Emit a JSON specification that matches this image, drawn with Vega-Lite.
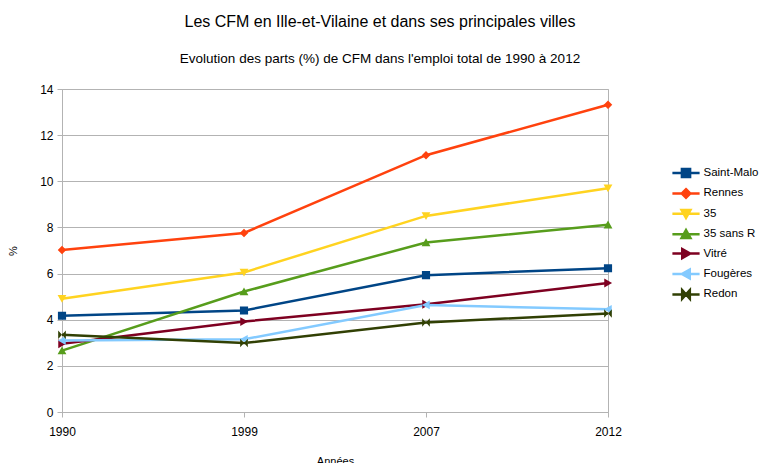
{
  "$schema": "https://vega.github.io/schema/vega-lite/v6.json",
  "width": 546,
  "height": 323,
  "autosize": {"type": "none"},
  "padding": {"left": 62, "top": 89, "right": 155, "bottom": 51},
  "background": "white",
  "title": {
    "text": "Les CFM en Ille-et-Vilaine et dans ses principales villes",
    "subtitle": "Evolution des parts (%) de CFM dans l'emploi total de 1990 à 2012",
    "fontSize": 16,
    "subtitleFontSize": 13.5,
    "font": "Liberation Sans",
    "subtitleFont": "Liberation Sans",
    "fontWeight": "normal",
    "color": "#000000",
    "subtitleColor": "#000000",
    "anchor": "middle",
    "dx": 45,
    "offset": 18,
    "subtitlePadding": 22
  },
  "config": {
    "view": {"stroke": "#b3b3b3"},
    "font": "Liberation Sans"
  },
  "data": {
    "values": [
      {"annee": "1990", "serie": "Saint-Malo", "valeur": 4.17},
      {"annee": "1999", "serie": "Saint-Malo", "valeur": 4.4},
      {"annee": "2007", "serie": "Saint-Malo", "valeur": 5.93},
      {"annee": "2012", "serie": "Saint-Malo", "valeur": 6.23},
      {"annee": "1990", "serie": "Rennes", "valeur": 7.02},
      {"annee": "1999", "serie": "Rennes", "valeur": 7.76},
      {"annee": "2007", "serie": "Rennes", "valeur": 11.13},
      {"annee": "2012", "serie": "Rennes", "valeur": 13.32},
      {"annee": "1990", "serie": "35", "valeur": 4.91},
      {"annee": "1999", "serie": "35", "valeur": 6.05},
      {"annee": "2007", "serie": "35", "valeur": 8.5},
      {"annee": "2012", "serie": "35", "valeur": 9.7},
      {"annee": "1990", "serie": "35 sans R", "valeur": 2.66},
      {"annee": "1999", "serie": "35 sans R", "valeur": 5.22},
      {"annee": "2007", "serie": "35 sans R", "valeur": 7.35},
      {"annee": "2012", "serie": "35 sans R", "valeur": 8.12},
      {"annee": "1990", "serie": "Vitré", "valeur": 2.96},
      {"annee": "1999", "serie": "Vitré", "valeur": 3.92},
      {"annee": "2007", "serie": "Vitré", "valeur": 4.67},
      {"annee": "2012", "serie": "Vitré", "valeur": 5.59},
      {"annee": "1990", "serie": "Fougères", "valeur": 3.1},
      {"annee": "1999", "serie": "Fougères", "valeur": 3.15},
      {"annee": "2007", "serie": "Fougères", "valeur": 4.64},
      {"annee": "2012", "serie": "Fougères", "valeur": 4.45},
      {"annee": "1990", "serie": "Redon", "valeur": 3.35},
      {"annee": "1999", "serie": "Redon", "valeur": 2.99},
      {"annee": "2007", "serie": "Redon", "valeur": 3.88},
      {"annee": "2012", "serie": "Redon", "valeur": 4.27}
    ]
  },
  "encoding": {
    "x": {
      "field": "annee",
      "type": "ordinal",
      "scale": {"type": "point", "padding": 0},
      "title": "Années",
      "axis": {
        "labelAngle": 0,
        "labelFontSize": 12,
        "labelColor": "#000000",
        "labelPadding": 9,
        "domainColor": "#b3b3b3",
        "tickColor": "#b3b3b3",
        "tickSize": 5,
        "grid": false,
        "titleFontSize": 11,
        "titleFontWeight": "normal",
        "titleColor": "#000000",
        "titlePadding": 18
      }
    },
    "y": {
      "field": "valeur",
      "type": "quantitative",
      "scale": {"domain": [0, 14], "nice": false},
      "title": "%",
      "axis": {
        "values": [0, 2, 4, 6, 8, 10, 12, 14],
        "labelFontSize": 12,
        "labelColor": "#000000",
        "labelPadding": 4,
        "domainColor": "#b3b3b3",
        "tickColor": "#b3b3b3",
        "tickSize": 5,
        "gridColor": "#b3b3b3",
        "gridWidth": 1,
        "titleFontSize": 11,
        "titleFontWeight": "normal",
        "titleColor": "#000000",
        "titlePadding": 21
      }
    },
    "color": {
      "field": "serie",
      "type": "nominal",
      "scale": {
        "domain": ["Saint-Malo", "Rennes", "35", "35 sans R", "Vitré", "Fougères", "Redon"],
        "range": ["#004586", "#ff420e", "#ffd320", "#579d1c", "#7e0021", "#83caff", "#314004"]
      },
      "legend": {
        "title": null,
        "orient": "none",
        "legendX": 614,
        "legendY": 74,
        "padding": 0,
        "symbolSize": 289,
        "labelFontSize": 11.5,
        "labelColor": "#000000",
        "labelOffset": 7.5,
        "rowPadding": 0.4,
        "symbolStrokeWidth": 2.5,
        "encode": {
          "symbols": {
            "update": {
              "stroke": {"scale": "color", "field": "value"},
              "fill": {"scale": "color", "field": "value"},
              "strokeWidth": {"value": 2.5},
              "opacity": {"value": 1}
            }
          }
        }
      }
    }
  },
  "layer": [
    {"mark": {"type": "line", "strokeWidth": 2.5}},
    {
      "mark": {"type": "point", "filled": true, "opacity": 1, "size": 289},
      "encoding": {
        "shape": {
          "field": "serie",
          "type": "nominal",
          "scale": {
            "domain": ["Saint-Malo", "Rennes", "35", "35 sans R", "Vitré", "Fougères", "Redon"],
            "range": [
              "M-1.6,0H1.6M-0.48,-0.48H0.48V0.48H-0.48Z",
              "M-1.6,0H1.6M0,-0.5L0.5,0L0,0.5L-0.5,0Z",
              "M-1.6,0H1.6M-0.52,-0.44H0.52L0,0.48Z",
              "M-1.6,0H1.6M-0.52,0.44H0.52L0,-0.48Z",
              "M-1.6,0H1.6M-0.44,-0.52L0.48,0L-0.44,0.52Z",
              "M-1.6,0H1.6M0.44,-0.52L-0.48,0L0.44,0.52Z",
              "M-1.6,0H1.6M-0.45,-0.5L0,0L-0.45,0.5ZM0.45,-0.5L0,0L0.45,0.5Z"
            ]
          },
          "legend": {
            "title": null,
            "orient": "none",
            "legendX": 614,
            "legendY": 74,
            "padding": 0,
            "symbolSize": 289,
            "labelFontSize": 11.5,
            "labelColor": "#000000",
            "labelOffset": 7.5,
            "rowPadding": 0.4,
            "symbolStrokeWidth": 2.5,
            "encode": {
              "symbols": {
                "update": {
                  "stroke": {"scale": "color", "field": "value"},
                  "fill": {"scale": "color", "field": "value"},
                  "strokeWidth": {"value": 2.5},
                  "opacity": {"value": 1}
                }
              }
            }
          }
        }
      }
    }
  ]
}
